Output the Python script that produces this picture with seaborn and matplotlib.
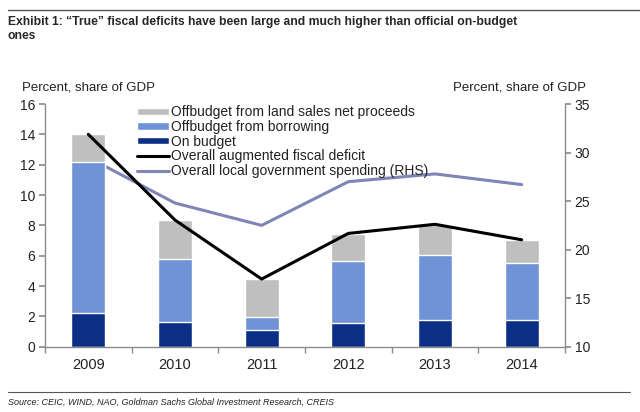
import numpy as np
import matplotlib
matplotlib.use("Agg")
import matplotlib.pyplot as plt
from matplotlib.patches import Patch
from matplotlib.lines import Line2D
import seaborn as sns

years = ["2009", "2010", "2011", "2012", "2013", "2014"]
on_budget = [2.24, 1.65, 1.10, 1.58, 1.76, 1.76]
offbudget_borrowing = [9.96, 4.13, 0.84, 4.05, 4.31, 3.76]
offbudget_land = [1.80, 2.57, 2.54, 1.80, 1.93, 1.51]
augmented_deficit = [14.0, 8.35, 4.46, 7.47, 8.07, 7.05]
local_spending = [29.5, 24.8, 22.5, 27.0, 27.8, 26.7]

c_land = "#bfbfbf"
c_borrow = "#6f93d6"
c_on = "#0c2f86"
c_spend = "#7f86b6"
spine_c = "#8c8c8c"
txt_c = "#222222"

sns.set_theme(style="white")
plt.rcParams["font.family"] = ["Liberation Sans", "DejaVu Sans"]

fig = plt.figure(figsize=(6.4, 4.12), dpi=100)
ax = fig.add_axes([0.0703, 0.1585, 0.8125, 0.589])

on_arr = np.array(on_budget)
mid = on_arr + np.array(offbudget_borrowing)
total = mid + np.array(offbudget_land)

# stacked bars drawn as overlapping cumulative totals
sns.barplot(x=years, y=total, color=c_land, width=0.39, saturation=1, ax=ax)
sns.barplot(x=years, y=mid, color=c_borrow, width=0.39, saturation=1, ax=ax)
sns.barplot(x=years, y=on_arr, color=c_on, width=0.39, saturation=1, ax=ax)

ax2 = ax.twinx()
sns.pointplot(x=years, y=local_spending, color=c_spend, markers="", linewidth=2.2,
              errorbar=None, ax=ax2)
ax.set_zorder(ax2.get_zorder() + 1)
ax.patch.set_visible(False)
sns.pointplot(x=years, y=augmented_deficit, color="black", markers="", linewidth=2.2,
              errorbar=None, ax=ax)

ax.set_xlim(-0.5, 5.5)
ax.set_ylim(0, 16)
ax2.set_ylim(10, 35)
ax.set_yticks(range(0, 17, 2))
ax2.set_yticks(range(10, 36, 5))
ax.set_xlabel("")
ax.set_ylabel("")
ax2.set_ylabel("")

for a in (ax, ax2):
    for s in a.spines.values():
        s.set_color(spine_c)
        s.set_linewidth(1.0)
    a.spines["top"].set_visible(False)
ax.spines["right"].set_visible(False)
ax2.spines["left"].set_visible(False)
ax2.spines["bottom"].set_visible(False)

ax.tick_params(axis="y", left=True, direction="out", length=4, color=spine_c,
               labelsize=10, pad=3, labelcolor=txt_c)
ax2.tick_params(axis="y", right=True, direction="out", length=4, color=spine_c,
                labelsize=10, pad=3, labelcolor=txt_c)
ax.set_xticks(np.arange(-0.5, 5.6, 1.0), minor=True)
ax.tick_params(axis="x", which="major", length=0, labelsize=10.5, pad=8, labelcolor=txt_c)
ax.tick_params(axis="x", which="minor", bottom=True, direction="out", length=4, color=spine_c)

handles = [
    Patch(facecolor=c_land, label="Offbudget from land sales net proceeds"),
    Patch(facecolor=c_borrow, label="Offbudget from borrowing"),
    Patch(facecolor=c_on, label="On budget"),
    Line2D([], [], color="black", lw=2.2, label="Overall augmented fiscal deficit"),
    Line2D([], [], color=c_spend, lw=2.2, label="Overall local government spending (RHS)"),
]
leg = ax.legend(handles=handles, loc="upper left", bbox_to_anchor=(0.177, 0.995), frameon=False,
                fontsize=10, handlelength=2.3, handleheight=0.45, handletextpad=0.15,
                labelspacing=0.05, borderaxespad=0, borderpad=0)
for t in leg.get_texts():
    t.set_color(txt_c)

fig.text(0.034, 0.772, "Percent, share of GDP", fontsize=9.5, color=txt_c, va="bottom")
fig.text(0.915, 0.772, "Percent, share of GDP", fontsize=9.5, color=txt_c, va="bottom",
         ha="right")

fig.text(0.0125, 0.962,
         "Exhibit 1: \u201cTrue\u201d fiscal deficits have been large and much higher than official on-budget\nones",
         fontsize=8.7, fontweight="bold", va="top", ha="left", linespacing=1.3)
fig.add_artist(Line2D([0.0125, 1.0], [0.975, 0.975], color="#555555", lw=1.0))
fig.add_artist(Line2D([0.0125, 0.985], [0.048, 0.048], color="#555555", lw=0.8))
fig.text(0.0125, 0.024, "Source: CEIC, WIND, NAO, Goldman Sachs Global Investment Research, CREIS",
         fontsize=6.5, style="italic", va="center", ha="left", color=txt_c)

fig.savefig("out.png", dpi=100)
